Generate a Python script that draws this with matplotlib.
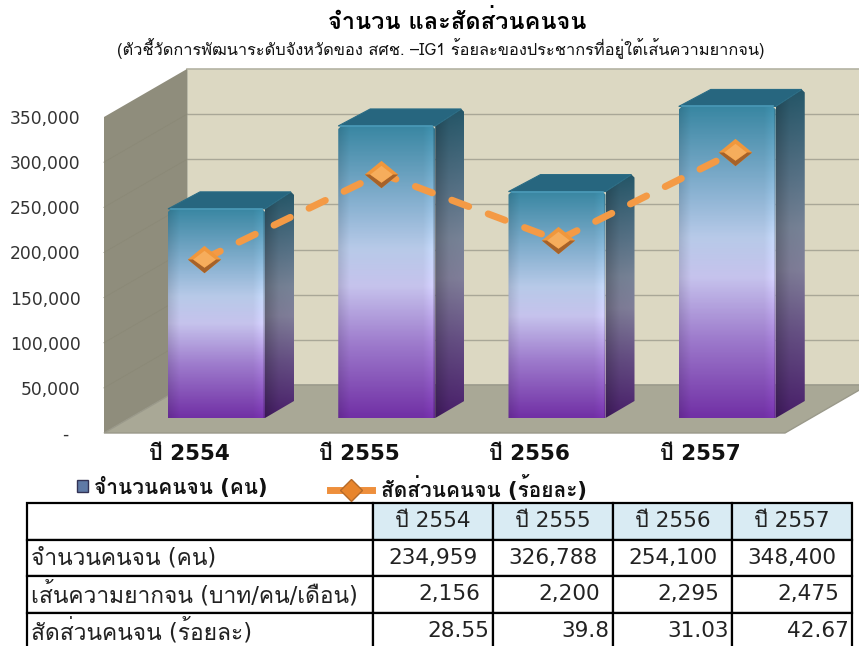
import numpy as np
import matplotlib
matplotlib.use("Agg")
import matplotlib.pyplot as plt
from matplotlib.colors import LinearSegmentedColormap
from matplotlib.lines import Line2D
from matplotlib.patches import Patch, Polygon

plt.rcParams['font.family'] = ['DejaVu Sans', 'Loma', 'Noto Sans Thai']
THAI = ['Loma', 'Noto Sans Thai', 'DejaVu Sans']

# data
years = ['ปี 2554', 'ปี 2555', 'ปี 2556', 'ปี 2557']
poor_people = [234959, 326788, 254100, 348400]
poverty_line = [2156, 2200, 2295, 2475]
poor_percent = [28.55, 39.8, 31.03, 42.67]
y_ticks = [0, 50000, 100000, 150000, 200000, 250000, 300000, 350000]
y_labels = ['-  ', '50,000', '100,000', '150,000', '200,000', '250,000', '300,000', '350,000']
row_names = ['จำนวนคนจน (คน)', 'เส้นความยากจน (บาท/คน/เดือน)', 'สัดส่วนคนจน (ร้อยละ)']
title = 'จำนวน และสัดส่วนคนจน'
subtitle = '(ตัวชี้วัดการพัฒนาระดับจังหวัดของ สศช. –IG1 ร้อยละของประชากรที่อยู่ใต้เส้นความยากจน)'

W, H = 859, 646
fig = plt.figure(figsize=(W / 100, H / 100), dpi=100, facecolor='white')


def rect(left, top, right, bottom):
    # pixel box of the reference -> figure fractions
    return [left / W, (H - bottom) / H, (right - left) / W, (bottom - top) / H]


ax = fig.add_axes(rect(104, 117, 785, 433))
ax.set_xlim(0, 4)
ax.set_ylim(0, 350000)
ax.set_autoscale_on(False)
ax.patch.set_visible(False)
for s in ax.spines.values():
    s.set_visible(False)

# one pixel in data units
ux = 4 / 681
uy = 350000 / 316
wall_dx, wall_dy = 83 * ux, 48 * uy
bar_x0 = 64 * ux
bar_w = 97 * ux
bar_dx, bar_dy = 29 * ux, 17 * uy

# walls and floor
ax.add_patch(Polygon([(wall_dx, wall_dy), (4 + wall_dx, wall_dy), (4 + wall_dx, 350000 + wall_dy),
                      (wall_dx, 350000 + wall_dy)], fc='#dcd8c2', ec='#b4b3a3', lw=1.2, clip_on=False, zorder=1))
ax.add_patch(Polygon([(0, 0), (wall_dx, wall_dy), (wall_dx, 350000 + wall_dy), (0, 350000)],
                     fc='#8f8d7c', ec='none', clip_on=False, zorder=1))
ax.add_patch(Polygon([(0, 0), (4, 0), (4 + wall_dx, wall_dy), (wall_dx, wall_dy)],
                     fc='#a9a896', ec='#9a998a', lw=1, clip_on=False, zorder=1))
for v in y_ticks[1:-1]:
    ax.plot([wall_dx, 4 + wall_dx], [v + wall_dy, v + wall_dy], color='#a9a797', lw=1, clip_on=False, zorder=2)
    ax.plot([0, wall_dx], [v, v + wall_dy], color='#8b8977', lw=0.6, clip_on=False, zorder=2)

# bars, gradient faces clipped to the box shape
bar_cmap = LinearSegmentedColormap.from_list('bar', [(0, '#38849f'), (0.27, '#86aecd'), (0.42, '#b4c6e4'),
                                                     (0.55, '#c2bfe8'), (0.75, '#9a78c8'), (1, '#6f2fa2')])
grad = bar_cmap(np.linspace(0, 1, 200))[:, :3]


def face(poly, shade, z):
    xs = [p[0] for p in poly]
    ys = [p[1] for p in poly]
    img = grad[:, None, :] * shade[None, :, None]
    im = ax.imshow(np.clip(img, 0, 1), extent=[min(xs), max(xs), min(ys), max(ys)], aspect='auto',
                   origin='upper', zorder=z, interpolation='bilinear')
    im.set_clip_path(Polygon(poly, transform=ax.transData))
    # images stop at the axes box otherwise, the tallest bar goes past it
    im.set_clip_box(fig.bbox)


front_shade = np.concatenate([np.linspace(0.9, 1.02, 12), np.full(70, 1.02), np.linspace(1.02, 1.1, 10), [0.95, 0.85]])
side_shade = np.concatenate([np.linspace(0.52, 0.64, 20), np.linspace(0.64, 0.66, 20)])

for i, v in enumerate(poor_people):
    x0 = i + bar_x0
    x1 = x0 + bar_w
    y0 = 15 * uy
    y1 = 12 * uy + v
    r_x, r_y = 3 * ux, 3 * uy
    front = [(x0, y0), (x1, y0), (x1, y1 - r_y), (x1 - r_x, y1), (x0 + r_x, y1), (x0, y1 - r_y)]
    side = [(x1, y0), (x1 + bar_dx, y0 + bar_dy), (x1 + bar_dx, y1 + bar_dy - r_y), (x1 + bar_dx - r_x, y1 + bar_dy),
            (x1, y1)]
    top = [(x0, y1), (x1, y1), (x1 + bar_dx - r_x, y1 + bar_dy), (x0 + bar_dx + r_x, y1 + bar_dy)]
    face(side, side_shade, 3)
    ax.add_patch(Polygon(top, fc='#27667f', ec='#2a6c85', lw=0.8, clip_on=False, zorder=3.5))
    face(front, front_shade, 4)
    ax.plot([x0 + r_x, x1 - r_x], [y1, y1], color='#4b9ab8', lw=1.2, clip_on=False, zorder=4.5)

# axis labels
ax.set_yticks(y_ticks)
ax.set_yticklabels(y_labels, fontsize=12.3, color='#333333')
ax.set_xticks([i + 0.5 for i in range(4)])
ax.set_xticklabels(years, fontsize=15.5, fontweight='bold', color='#111111')
ax.tick_params(axis='y', length=0, pad=17)
ax.tick_params(axis='x', length=0, pad=8)

# percent line has its own scale, drawn over the bars
ax2 = fig.add_axes(rect(115.5, 100, 823.5, 476))
ax2.set_xlim(0, 4)
ax2.set_ylim(0, 376 / 7.6)
ax2.axis('off')
line_x = [i + 0.5 for i in range(4)]
ax2.plot(line_x, poor_percent, color='#f49a45', lw=5, dashes=(2.6, 3.0), dash_capstyle='round', zorder=5)
diamond = [(-1, 0), (0, 0.82), (1, 0), (0, -0.82), (-1, 0)]
lower = [(-1, 0), (-0.7, 0), (0, -0.5), (0.7, 0), (1, 0), (0, -0.82), (-1, 0)]
inner = [(-1, 0), (0, 0.78), (1, 0), (0, -0.72), (-1, 0)]
ax2.plot(line_x, poor_percent, ls='none', marker=diamond, ms=24, mfc='#f0973c', mec='none', zorder=6)
ax2.plot(line_x, poor_percent, ls='none', marker=lower, ms=24, mfc='#a5622a', mec='none', zorder=7)
ax2.plot(line_x, poor_percent, ls='none', marker=inner, ms=16, mfc='#f6ad5c', mec='none', zorder=8)

# titles
fig.text(457 / W, (H - 22) / H, title, ha='center', va='center', fontsize=17, fontweight='bold',
         family=THAI, color='black')
fig.text(440.5 / W, (H - 49) / H, subtitle, ha='center', va='center', fontsize=11.8, family=THAI, color='#111111')

# legend
legend_font = {'size': 15, 'weight': 'bold'}
fig.legend(handles=[Patch(fc='#5f7aa6', ec='#333355', lw=1, label=row_names[0])], loc='center left',
           bbox_to_anchor=(77 / W, (H - 487) / H), frameon=False, prop=legend_font, borderpad=0, borderaxespad=0,
           handlelength=0.55, handleheight=0.55, handletextpad=0.25, labelcolor='#111111')
fig.legend(handles=[Line2D([], [], color='#ee8f3c', lw=5, marker='D', ms=11, mfc='#e8852c', mec='#b56a28',
                           label=row_names[2])], loc='center left',
           bbox_to_anchor=(330 / W, (H - 488) / H), frameon=False, prop=legend_font, borderpad=0, borderaxespad=0,
           handlelength=2.0, handletextpad=0.45, labelcolor='#111111')

# table
tab = fig.add_axes(rect(27, 503, 852, 649))
tab.axis('off')
cells = [[''] + years,
         [row_names[0]] + [f'{v:,}' for v in poor_people],
         [row_names[1]] + [f'{v:,}' for v in poverty_line],
         [row_names[2]] + [str(v) for v in poor_percent]]
col_px = np.array([346, 120, 120, 119, 120])
table = tab.table(cellText=cells, colWidths=list(col_px / col_px.sum()), bbox=[0, 0, 1, 1], cellLoc='left')
table.auto_set_font_size(False)
pads = {2: 0.11, 3: 0.03}
for (r, c), cell in table.get_celld().items():
    cell.set_edgecolor('black')
    cell.set_linewidth(1.6)
    txt = cell.get_text()
    txt.set_fontsize(15.6 if c > 0 else 16.4)
    txt.set_color('#222222')
    if c == 0:
        cell.PAD = 0.012
    elif r <= 1:
        txt.set_ha('center')
    else:
        cell.PAD = pads[r]
        txt.set_ha('right')
    if r == 0 and c > 0:
        cell.set_facecolor('#d9ebf3')

fig.savefig('out.png', dpi=100, facecolor='white')
